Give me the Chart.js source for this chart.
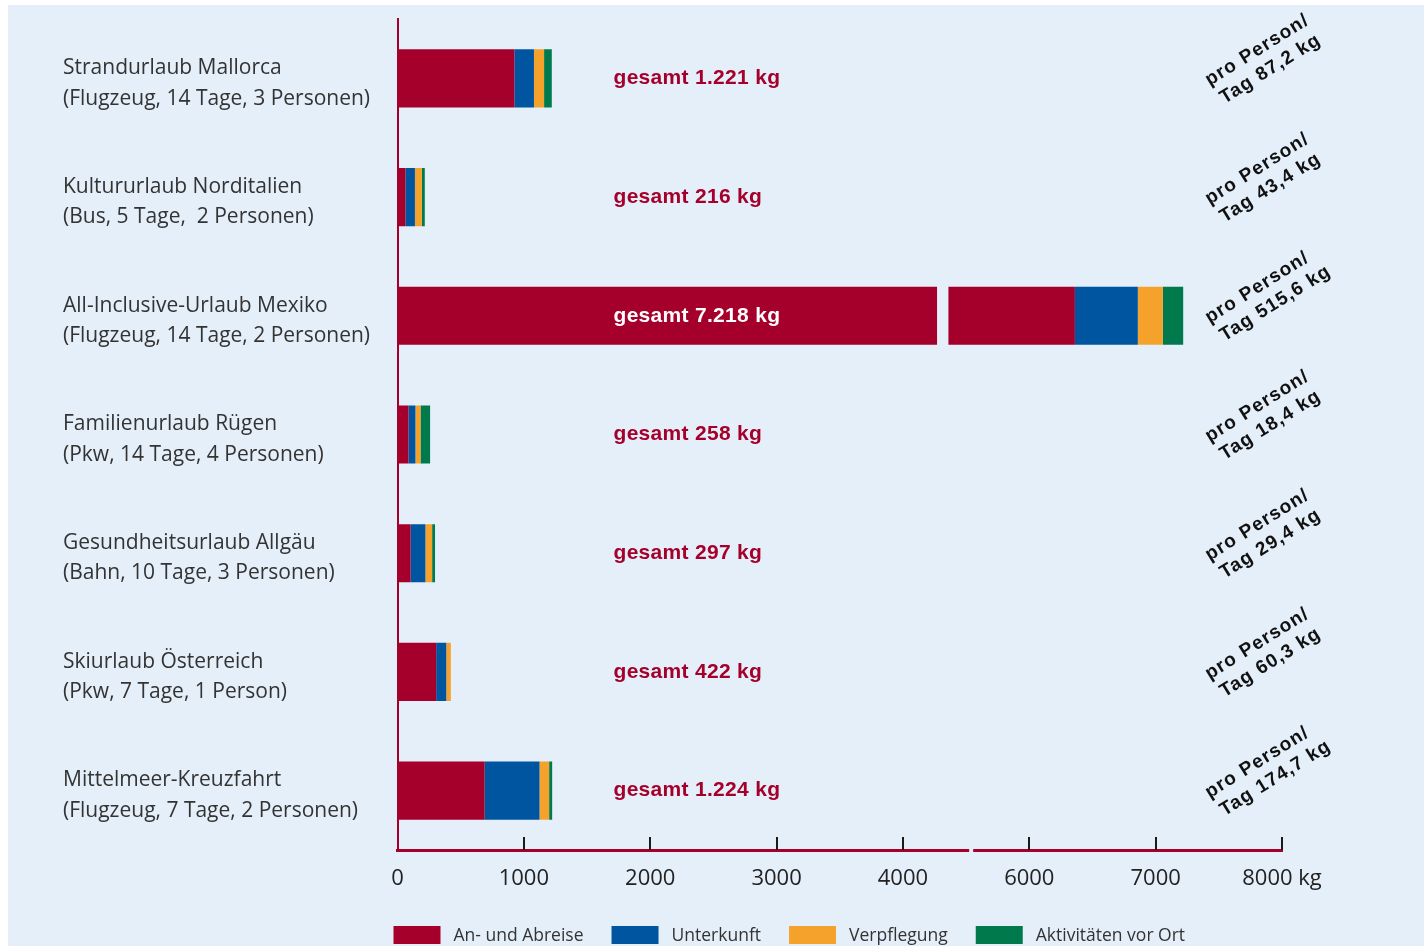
<!DOCTYPE html>
<html lang="de">
<head>
<meta charset="utf-8">
<title>CO2-Bilanz verschiedener Urlaubsreisen</title>
<script src="https://cdn.jsdelivr.net/npm/chart.js@4.4.1/dist/chart.umd.min.js"></script>
<style>
  html, body { margin: 0; padding: 0; background: #fff; overflow: hidden; }
  #wrap { position: absolute; left: 8px; top: 5px; width: 1416px; height: 941px; background: #e5eff9; }
</style>
</head>
<body>
<div id="wrap"><canvas id="chart" width="1416" height="941"></canvas></div>
<script>
// Reisen (zweizeilige Beschriftung)
const reisen = [
  ["Strandurlaub Mallorca", "(Flugzeug, 14 Tage, 3 Personen)"],
  ["Kultururlaub Norditalien", "(Bus, 5 Tage,  2 Personen)"],
  ["All-Inclusive-Urlaub Mexiko", "(Flugzeug, 14 Tage, 2 Personen)"],
  ["Familienurlaub Rügen", "(Pkw, 14 Tage, 4 Personen)"],
  ["Gesundheitsurlaub Allgäu", "(Bahn, 10 Tage, 3 Personen)"],
  ["Skiurlaub Österreich", "(Pkw, 7 Tage, 1 Person)"],
  ["Mittelmeer-Kreuzfahrt", "(Flugzeug, 7 Tage, 2 Personen)"]
];

// CO2 in kg je Bereich
const anreise      = [925,  63, 6361,  87, 104, 306, 690];
const unterkunft   = [155,  75,  498,  55, 117,  80, 434];
const verpflegung  = [ 80,  55,  198,  40,  53,  36,  76];
const aktivitaeten = [ 61,  23,  161,  76,  23,   0,  24];

const gesamt   = [1221, 216, 7218, 258, 297, 422, 1224];
const proTag   = [87.2, 43.4, 515.6, 18.4, 29.4, 60.3, 174.7];

const bereiche = ["An- und Abreise", "Unterkunft", "Verpflegung", "Aktivitäten vor Ort"];
const farben   = ["#a5002b", "#0055a0", "#f5a22d", "#007a4d"];

// x-Achse: Werte 0..8000 kg, der Bereich 5000..6000 ist ausgespart
const achsenTicks = [0, 1000, 2000, 3000, 4000, 6000, 7000, 8000];
const bruchVon = 5000, bruchBis = 6000;
const schnittBalken = [4270, 4360];   // Lücke im langen Balken
const schnittAchse = 4540;            // Lücke in der Achsenlinie

const hintergrund = "#e5eff9";
const rot = "#a5002b";

function aufAchse(v) {
  if (v <= bruchVon) return v;
  return Math.max(bruchVon, v - (bruchBis - bruchVon));
}
function vonAchse(v) {
  return v < bruchVon ? v : v + (bruchBis - bruchVon);
}
function kg(v) {
  return String(v).replace(/\B(?=(\d{3})+(?!\d))/g, ".");
}
function komma(v) {
  return v.toFixed(1).replace(".", ",");
}

// gestapelte Segmente auf die gebrochene Achse umrechnen
const werte = [anreise, unterkunft, verpflegung, aktivitaeten];
const datasets = werte.map((reihe, k) => ({
  label: bereiche[k],
  backgroundColor: farben[k],
  borderWidth: 0,
  barPercentage: 0.49,
  categoryPercentage: 1,
  data: reihe.map((_, i) => {
    let start = 0;
    for (let j = 0; j < k; j++) start += werte[j][i];
    return aufAchse(start + reihe[i]) - aufAchse(start);
  })
}));

const beschriftung = {
  id: "beschriftung",
  afterDatasetsDraw(chart) {
    const { ctx, scales: { x, y } } = chart;
    const meta = chart.getDatasetMeta(0);
    ctx.save();

    // Schnitt im Balken, der über den Achsenbruch reicht
    gesamt.forEach((g, i) => {
      if (g <= bruchVon) return;
      const el = meta.data[i];
      const x0 = x.getPixelForValue(schnittBalken[0]);
      const x1 = x.getPixelForValue(schnittBalken[1]);
      ctx.fillStyle = hintergrund;
      ctx.fillRect(x0, el.y - el.height / 2 - 1, x1 - x0, el.height + 2);
    });

    // "gesamt ... kg"
    ctx.font = 'bold 21px "Liberation Sans", Arial, sans-serif';
    ctx.letterSpacing = "0.3px";
    ctx.textBaseline = "middle";
    ctx.textAlign = "left";
    const tx = x.left + 216;
    gesamt.forEach((g, i) => {
      const yc = y.getPixelForValue(i);
      ctx.fillStyle = x.getPixelForValue(aufAchse(g)) > tx + 200 ? "#ffffff" : rot;
      ctx.fillText("gesamt " + kg(g) + " kg", tx, yc);
    });

    // "pro Person/ Tag ... kg" schräg am rechten Rand
    ctx.font = 'bold 19px "Liberation Sans", Arial, sans-serif';
    ctx.fillStyle = "#111";
    ctx.letterSpacing = "1.2px";
    proTag.forEach((p, i) => {
      const yc = y.getPixelForValue(i);
      ctx.save();
      ctx.translate(x.right - 74, yc + 5);
      ctx.rotate(-32 * Math.PI / 180);
      ctx.fillText("pro Person/", 0, -2);
      ctx.fillText("Tag " + komma(p) + " kg", 3, 21);
      ctx.restore();
    });
    ctx.restore();
  },
  afterDraw(chart) {
    const { ctx, scales: { x } } = chart;
    ctx.save();

    // Teilstriche nach innen
    ctx.strokeStyle = "#1a1a1a";
    ctx.lineWidth = 2;
    x.ticks.forEach(t => {
      if (t.value <= 0) return;
      const px = Math.round(x.getPixelForValue(t.value));
      ctx.beginPath();
      ctx.moveTo(px, x.top - 13);
      ctx.lineTo(px, x.top);
      ctx.stroke();
    });

    // Lücke in der Achsenlinie
    ctx.fillStyle = hintergrund;
    ctx.fillRect(x.getPixelForValue(schnittAchse) - 2, x.top - 3, 4, 6);

    // Legende
    ctx.font = '17.5px "Open Sans", sans-serif';
    ctx.textBaseline = "middle";
    ctx.textAlign = "left";
    let lx = x.left - 4;
    const ly = chart.height - 20;
    chart.data.datasets.forEach(ds => {
      ctx.fillStyle = ds.backgroundColor;
      ctx.fillRect(lx, ly, 47, 18);
      ctx.fillStyle = "#333";
      ctx.fillText(ds.label, lx + 60, ly + 10);
      lx += 60 + ctx.measureText(ds.label).width + 28;
    });
    ctx.restore();
  }
};

new Chart(document.getElementById("chart"), {
  type: "bar",
  data: { labels: reisen, datasets },
  options: {
    indexAxis: "y",
    responsive: false,
    animation: false,
    layout: { padding: { left: 55, right: 142, top: 14, bottom: 46 } },
    plugins: { legend: { display: false }, tooltip: { enabled: false } },
    scales: {
      x: {
        stacked: true,
        min: 0,
        max: aufAchse(achsenTicks[achsenTicks.length - 1]),
        afterBuildTicks(scale) {
          scale.ticks = achsenTicks.map(v => ({ value: aufAchse(v) }));
        },
        afterFit(scale) {
          scale.height = 50;
          scale.paddingLeft = 0;
          scale.paddingRight = 0;
        },
        grid: { display: false, drawTicks: false },
        border: { display: true, color: rot, width: 3 },
        ticks: {
          padding: 16,
          color: "#222",
          font: { family: "Open Sans", size: 22 },
          maxRotation: 0,
          callback(v) {
            const real = vonAchse(v);
            return real === achsenTicks[achsenTicks.length - 1] ? real + " kg" : String(real);
          }
        }
      },
      y: {
        stacked: true,
        afterFit(scale) {
          scale.width = 334.5;
          scale.paddingTop = 0;
          scale.paddingBottom = 0;
        },
        grid: { display: false, drawTicks: false },
        border: { display: true, color: rot, width: 2 },
        ticks: {
          crossAlign: "far",
          labelOffset: 5,
          color: "#333",
          font: { family: "Open Sans", size: 21, lineHeight: 1.45 }
        }
      }
    }
  },
  plugins: [beschriftung]
});
</script>
</body>
</html>
